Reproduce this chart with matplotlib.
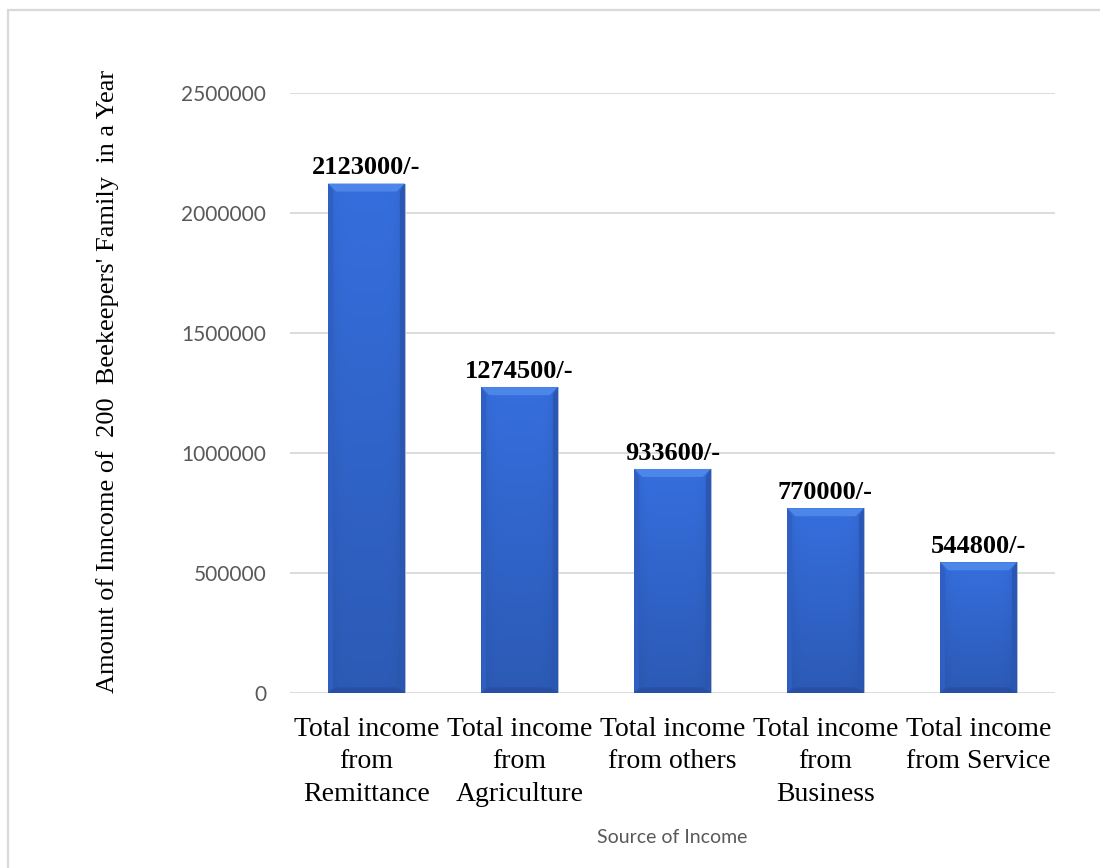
import matplotlib
matplotlib.use('Agg')
import matplotlib.pyplot as plt
import numpy as np
from matplotlib.patches import Rectangle, Polygon
from matplotlib.colors import to_rgb

categories = [
    'Total income\nfrom\nRemittance',
    'Total income\nfrom\nAgriculture',
    'Total income\nfrom others',
    'Total income\nfrom\nBusiness',
    'Total income\nfrom Service',
]
income = [2123000, 1274500, 933600, 770000, 544800]
value_labels = ['2123000/-', '1274500/-', '933600/-', '770000/-', '544800/-']
yticks = [0, 500000, 1000000, 1500000, 2000000, 2500000]

SERIF = ['Liberation Serif', 'DejaVu Serif']
SANS = ['Lato', 'DejaVu Sans']
GRAY = '#595959'

fig = plt.figure(figsize=(11, 8.68), dpi=100)
ax = fig.add_axes([0.2636, 0.2016, 0.6955, 0.6912])

# outer chart frame (runs off the right and bottom edges)
fig.patches.append(Rectangle((8 / 1100, -0.05), 1.2, 1 - 10 / 868 + 0.05,
                             transform=fig.transFigure, fill=False,
                             edgecolor='#d9d9d9', linewidth=1.6))

x = np.arange(len(categories))
width = 0.5
bars = ax.bar(x, income, width=width, color='#3468d2', edgecolor='#b8c0cc',
              linewidth=0.6, zorder=2)

ax.set_xlim(-0.5, len(categories) - 0.5)
ax.set_ylim(0, 2500000)

# pixel sizes of the bevel in data units
px_x = 1.0 / 153
px_y = 2500000 / 600.0
bx, by = 8 * px_x, 8 * px_y

for b in bars:
    x0, y0, w, h = b.get_x(), b.get_y(), b.get_width(), b.get_height()
    # body gradient: a little darker towards the bottom and at the sides
    ny, nx = 200, 80
    vy = np.linspace(0.86, 1.05, ny)[:, None]
    hx = np.linspace(-1, 1, nx)
    hf = 1 - 0.10 * np.abs(hx) ** 6
    base = np.array(to_rgb('#3369d3'))
    img = np.clip(base[None, None, :] * (vy * hf[None, :])[:, :, None], 0, 1)
    im = ax.imshow(img, extent=[x0, x0 + w, y0, y0 + h], origin='lower',
                   aspect='auto', zorder=2.1, interpolation='bilinear')
    im.set_clip_path(b)
    top = y0 + h
    # bevel facets: light top, dark bottom, slightly dark sides
    ax.add_patch(Polygon([(x0, top), (x0 + w, top), (x0 + w - bx, top - by),
                          (x0 + bx, top - by)], closed=True,
                         facecolor='#4c86e8', edgecolor='none', zorder=2.2))
    ax.add_patch(Polygon([(x0, y0), (x0 + w, y0), (x0 + w - bx, y0 + by * 0.7),
                          (x0 + bx, y0 + by * 0.7)], closed=True,
                         facecolor='#284fa4', edgecolor='none', zorder=2.2))
    ax.add_patch(Polygon([(x0, y0), (x0 + bx * 0.6, y0 + by * 0.7),
                          (x0 + bx * 0.6, top - by), (x0, top)], closed=True,
                         facecolor='#2f5fc2', edgecolor='none', zorder=2.2))
    ax.add_patch(Polygon([(x0 + w, y0), (x0 + w - bx * 0.6, y0 + by * 0.7),
                          (x0 + w - bx * 0.6, top - by), (x0 + w, top)], closed=True,
                         facecolor='#2a56b4', edgecolor='none', zorder=2.2))

for xi, v, lab in zip(x, income, value_labels):
    ax.annotate(lab, (xi, v), xytext=(0, 3), textcoords='offset points',
                ha='center', va='bottom', fontsize=19, fontweight='bold',
                family=SERIF, color='black')

ax.set_yticks(yticks)
ax.set_yticklabels([str(t) for t in yticks], family=SANS, fontsize=15, color=GRAY)
ax.set_xticks(x)
ax.set_xticklabels(categories, family=SERIF, fontsize=20, color='black',
                   linespacing=1.4)
ax.tick_params(axis='both', length=0)
ax.tick_params(axis='y', pad=17)
ax.tick_params(axis='x', pad=17)
ax.yaxis.grid(True, color='#d9d9d9', linewidth=1.3, zorder=0)
ax.set_axisbelow(True)
for s in ax.spines.values():
    s.set_visible(False)

ax.set_xlabel('Source of Income', family=SANS, fontsize=14, color=GRAY, labelpad=16)
fig.text(0.098, 0.561, "Amount of Inncome of  200  Beekeepers' Family  in a Year",
         rotation=90, ha='center', va='center', family=SERIF, fontsize=19,
         color='black')

fig.savefig('out.png', dpi=100, facecolor='white')
